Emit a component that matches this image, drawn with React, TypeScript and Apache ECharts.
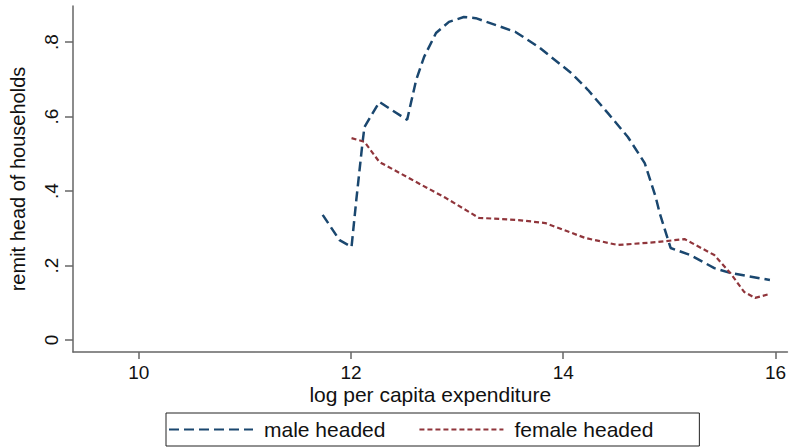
import React, { useEffect, useRef } from "react";
import * as echarts from "echarts";

const maleX = [11.733, 11.892, 12.005, 12.05, 12.108, 12.127, 12.267, 12.529, 12.614, 12.689, 12.801, 12.923, 13.063, 13.176, 13.55, 13.766, 14.075, 14.234, 14.421, 14.609, 14.768, 14.871, 14.909, 15.012, 15.199, 15.424, 15.574, 15.948];
const maleY = [0.336, 0.268, 0.25, 0.376, 0.529, 0.572, 0.639, 0.591, 0.698, 0.76, 0.824, 0.854, 0.867, 0.864, 0.827, 0.787, 0.717, 0.671, 0.609, 0.545, 0.475, 0.384, 0.341, 0.247, 0.228, 0.193, 0.18, 0.161];

const femaleX = [12.005, 12.127, 12.267, 12.576, 12.895, 13.204, 13.578, 13.831, 14.206, 14.515, 14.89, 15.143, 15.424, 15.574, 15.705, 15.808, 15.939];
const femaleY = [0.542, 0.532, 0.478, 0.43, 0.381, 0.328, 0.322, 0.314, 0.274, 0.255, 0.263, 0.271, 0.228, 0.18, 0.129, 0.113, 0.123];

const xTicks = [10, 12, 14, 16];
const yTicks = [0, 0.2, 0.4, 0.6, 0.8];
const yTickLabels = ["0", ".2", ".4", ".6", ".8"];
const seriesNames = ["male headed", "female headed"];

const FONT = "Liberation Sans, Arial, Helvetica, sans-serif";

export default function App() {
  const ref = useRef<HTMLDivElement>(null);
  useEffect(() => {
    if (!ref.current) return;
    const chart = echarts.init(ref.current, null, { renderer: "svg" });
    const pair = (xs: number[], ys: number[]) => xs.map((x, i) => [x, ys[i]]);
    chart.setOption({
      animation: false,
      backgroundColor: "#ffffff",
      grid: { left: 72, right: 0, top: 6, bottom: 96, containLabel: false },
      xAxis: {
        type: "value",
        min: 9.38,
        max: 16.113,
        name: "log per capita expenditure",
        nameLocation: "middle",
        nameGap: 32,
        nameMoveOverlap: false,
        nameTextStyle: { fontFamily: FONT, fontSize: 21, color: "#111", lineHeight: 21 },
        axisLine: { show: true, onZero: false, lineStyle: { color: "#666", width: 1.5 } },
        axisTick: { show: true, length: 7, customValues: xTicks, lineStyle: { color: "#666", width: 1.5 } },
        axisLabel: { customValues: xTicks, margin: 11, fontFamily: FONT, fontSize: 19, lineHeight: 19, color: "#111", showMinLabel: true, showMaxLabel: true },
        splitLine: { show: false },
      },
      yAxis: {
        type: "value",
        min: -0.0322,
        max: 0.8966,
        name: "remit head of households",
        nameLocation: "middle",
        nameGap: 45,
        nameMoveOverlap: false,
        nameTextStyle: { fontFamily: FONT, fontSize: 20, color: "#111" },
        axisLine: { show: true, onZero: false, lineStyle: { color: "#666", width: 1.5 } },
        axisTick: { show: true, length: 8, customValues: yTicks, lineStyle: { color: "#666", width: 1.5 } },
        axisLabel: {
          customValues: yTicks,
          rotate: 90,
          margin: 12,
          fontFamily: FONT,
          fontSize: 19,
          color: "#111",
          formatter: (v: number) => {
            const i = yTicks.findIndex((t) => Math.abs(t - v) < 1e-6);
            return i >= 0 ? yTickLabels[i] : "";
          },
        },
        splitLine: { show: false },
      },
      legend: {
        left: 166,
        top: 413,
        orient: "horizontal",
        data: seriesNames,
        itemWidth: 84,
        itemHeight: 14,
        itemGap: 33,
        padding: [6, 46, 6, 2],
        borderColor: "#222",
        borderWidth: 1,
        backgroundColor: "#fff",
        itemStyle: { opacity: 0 },
        textStyle: { fontFamily: FONT, fontSize: 21, color: "#111", padding: [0, 0, 0, 6] },
      },
      series: [
        {
          name: seriesNames[0],
          type: "line",
          data: pair(maleX, maleY),
          showSymbol: false,
          symbol: "none",
          lineStyle: { color: "#1a476f", width: 2.5, type: [10, 5] },
          itemStyle: { color: "#1a476f" },
        },
        {
          name: seriesNames[1],
          type: "line",
          data: pair(femaleX, femaleY),
          showSymbol: false,
          symbol: "none",
          lineStyle: { color: "#90353b", width: 2.2, type: [5, 3] },
          itemStyle: { color: "#90353b" },
        },
      ],
    });
    return () => chart.dispose();
  }, []);
  return (
    <div
      ref={ref}
      style={{ position: "fixed", left: 0, top: 0, width: 789, height: 448, background: "#fff" }}
    />
  );
}
